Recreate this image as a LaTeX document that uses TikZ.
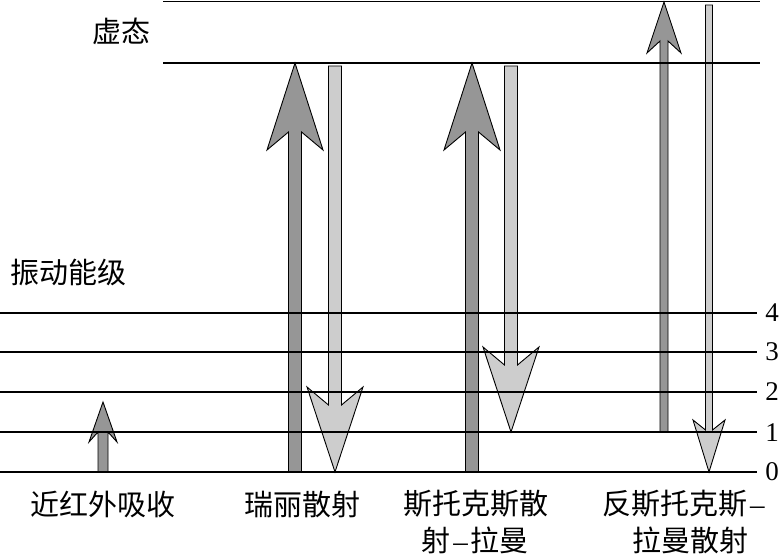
\documentclass[tikz,border=0pt]{standalone}
\usepackage{fontspec}
\setmainfont{Liberation Serif}
\newfontfamily\cjk{Noto Sans CJK SC}
\definecolor{upfill}{RGB}{150,150,150}
\definecolor{dnfill}{RGB}{205,205,205}
\newcommand\uparr[8]{%
  \draw[#8] ({#1-#4},#2) -- ({#1-#4},{#3+#7}) -- ({#1-#5},{#3+#6}) -- (#1,#3)
    -- ({#1+#5},{#3+#6}) -- ({#1+#4},{#3+#7}) -- ({#1+#4},#2) -- cycle;}
\newcommand\dnarr[8]{%
  \draw[#8] ({#1-#4},#2) -- ({#1-#4},{#3-#7}) -- ({#1-#5},{#3-#6}) -- (#1,#3)
    -- ({#1+#5},{#3-#6}) -- ({#1+#4},{#3-#7}) -- ({#1+#4},#2) -- cycle;}
\newcommand\cdash{\hspace{3pt}{\rmfamily –}\hspace{3pt}}
\begin{document}
\begin{tikzpicture}[x=1pt,y=-1pt,
  level/.style={line width=1.7pt},
  upa/.style={fill=upfill,draw=black,line width=0.9pt,line join=miter},
  dna/.style={fill=dnfill,draw=black,line width=0.9pt,line join=miter},
  lbl/.style={inner sep=0pt,font=\cjk\fontsize{29}{36}\selectfont},
  num/.style={inner sep=0pt,font=\fontsize{27}{30}\selectfont}]
\useasboundingbox (0,0) rectangle (781,556);
% arrows
\uparr{103}{472}{402}{5}{14}{40}{30}{upa}
\uparr{295}{472}{63}{6.5}{28}{87}{69}{upa}
\dnarr{335}{66}{472}{6.5}{28}{85}{67}{dna}
\uparr{472}{472}{63}{6.5}{28}{87}{69}{upa}
\dnarr{511}{66}{432}{6.5}{28}{85}{67}{dna}
\uparr{664}{432}{2}{4}{17}{51}{39}{upa}
\dnarr{709}{5}{472}{3.5}{16}{52}{42}{dna}
% levels
\draw[level] (163,1.5) -- (760,1.5);
\draw[level] (163,63) -- (760,63);
\foreach \y in {313,352,392,432,472} \draw[level] (0,\y) -- (757,\y);
% labels
\node[lbl] (xt) at (121,31) {虚态};
\node[lbl] (zd) at (68,272) {振动能级};
\node[num] (n4) at (772,313) {4};
\node[num] (n3) at (772,352) {3};
\node[num] (n2) at (772,392) {2};
\node[num] (n1) at (772,433) {1};
\node[num] (n0) at (772,472) {0};
\node[lbl] (l1) at (103,504) {近红外吸收};
\node[lbl] (l2) at (302,504) {瑞丽散射};
\node[lbl] (l3a) at (476,504) {斯托克斯散};
\node[lbl] (l3b) at (475,540) {射\cdash 拉曼};
\node[lbl,anchor=west] (l4a) at (602,504) {反斯托克斯\cdash};
\node[lbl] (l4b) at (690,540) {拉曼散射};
\end{tikzpicture}
\end{document}
